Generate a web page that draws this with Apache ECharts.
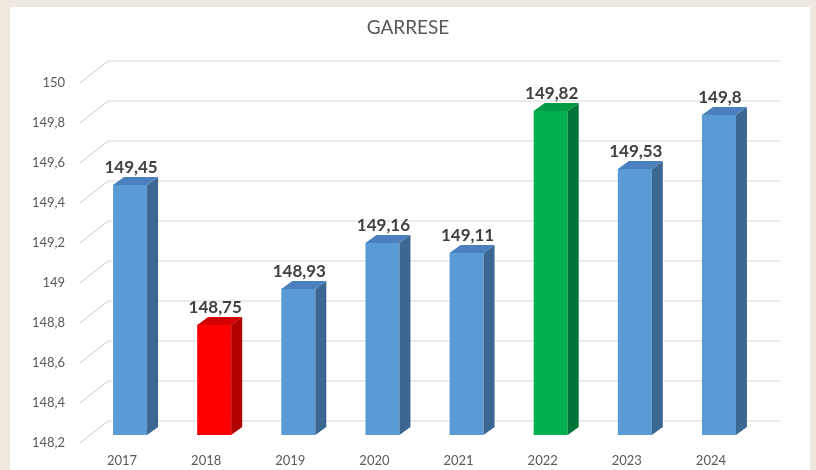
<!DOCTYPE html>
<html>
<head>
<meta charset="utf-8">
<title>GARRESE</title>
<script src="https://cdn.jsdelivr.net/npm/echarts@6/dist/echarts.min.js"></script>
<style>
  html, body { margin: 0; padding: 0; background: #efe8de; }
  #chart { width: 816px; height: 470px; }
</style>
</head>
<body>
<div id="chart"></div>
<script>
// dati
const years = ['2017', '2018', '2019', '2020', '2021', '2022', '2023', '2024'];
const values = [149.45, 148.75, 148.93, 149.16, 149.11, 149.82, 149.53, 149.8];
const yTicks = [148.2, 148.4, 148.6, 148.8, 149, 149.2, 149.4, 149.6, 149.8, 150];

const Y_MIN = 148.2;
const Y_MAX = 150;

// colori: minimo rosso, massimo verde, gli altri blu
const palette = {
    blue: { front: '#5b9bd5', side: '#3b6792', top: '#4a80bd' },
    red: { front: '#ff0000', side: '#b00000', top: '#d40000' },
    green: { front: '#00b050', side: '#00753a', top: '#009a45' }
};
const minVal = Math.min.apply(null, values);
const maxVal = Math.max.apply(null, values);

function colorFor(v) {
    if (v === minVal) return palette.red;
    if (v === maxVal) return palette.green;
    return palette.blue;
}

function fmt(v) {
    return String(+v.toFixed(2)).replace('.', ',');
}

const chart = echarts.init(document.getElementById('chart'));

// barre pseudo 3D (faccia, lato, tetto)
function renderBar(params, api) {
    const i = api.value(0);
    const v = api.value(1);
    const top = api.coord([i, v]);
    const base = api.coord([i, Y_MIN]);
    const w = 17, dx = 11, dy = 8;
    const c = colorFor(values[i]);
    const cx = top[0];
    return {
        type: 'group',
        children: [
            {
                type: 'rect',
                shape: { x: cx - w, y: top[1], width: 2 * w, height: base[1] - top[1] },
                style: { fill: c.front }
            },
            {
                type: 'polygon',
                shape: { points: [[cx + w, top[1]], [cx + w + dx, top[1] - dy], [cx + w + dx, base[1] - dy], [cx + w, base[1]]] },
                style: { fill: c.side }
            },
            {
                type: 'polygon',
                shape: { points: [[cx - w, top[1]], [cx - w + dx, top[1] - dy], [cx + w + dx, top[1] - dy], [cx + w, top[1]]] },
                style: { fill: c.top }
            },
            {
                type: 'text',
                style: {
                    text: fmt(v),
                    x: cx + 1,
                    y: top[1] - dy - 1,
                    align: 'center',
                    verticalAlign: 'bottom',
                    font: 'bold 17px Lato',
                    fill: '#404040'
                }
            }
        ]
    };
}

// griglia sulla parete di fondo con le diagonali del pavimento
function renderGrid(params, api) {
    const v = api.value(0);
    const cs = params.coordSys;
    const y = api.coord([0, v])[1];
    const left = cs.x, right = cs.x + cs.width;
    return {
        type: 'polyline',
        shape: { points: [[left - 8, y + 8], [left + 20, y - 14], [right + 19, y - 14]] },
        style: { stroke: '#d9d9d9', lineWidth: 1.2, fill: null }
    };
}

const option = {
    backgroundColor: '#efe8de',
    animation: false,
    graphic: [{
        type: 'rect',
        z: -10,
        shape: { x: 10, y: 7, width: 800, height: 470 },
        style: { fill: '#ffffff' }
    }],
    title: {
        text: 'GARRESE',
        left: 'center',
        top: 13,
        textStyle: { fontFamily: 'Lato', fontSize: 19, fontWeight: 'normal', color: '#595959' }
    },
    grid: { left: 88, right: 55, top: 75, bottom: 35 },
    xAxis: {
        type: 'category',
        data: years,
        axisLine: { show: false },
        axisTick: { show: false },
        axisLabel: {
            margin: 19,
            padding: [0, 16, 0, 0],
            fontFamily: 'Lato',
            fontSize: 13,
            color: '#595959'
        }
    },
    yAxis: {
        type: 'value',
        min: Y_MIN,
        max: Y_MAX,
        interval: 0.2,
        axisLine: { show: false },
        axisTick: { show: false },
        splitLine: { show: false },
        axisLabel: {
            margin: 23,
            verticalAlign: 'top',
            padding: [1, 0, 0, 0],
            fontFamily: 'Lato',
            fontSize: 13,
            color: '#595959',
            formatter: fmt
        }
    },
    series: [
        {
            type: 'custom',
            z: 1,
            renderItem: renderGrid,
            encode: { y: 0 },
            data: yTicks.map(t => [t]),
            silent: true
        },
        {
            type: 'custom',
            z: 2,
            renderItem: renderBar,
            encode: { x: 0, y: 1 },
            data: values.map((v, i) => [i, v])
        }
    ]
};

chart.setOption(option);
</script>
</body>
</html>
